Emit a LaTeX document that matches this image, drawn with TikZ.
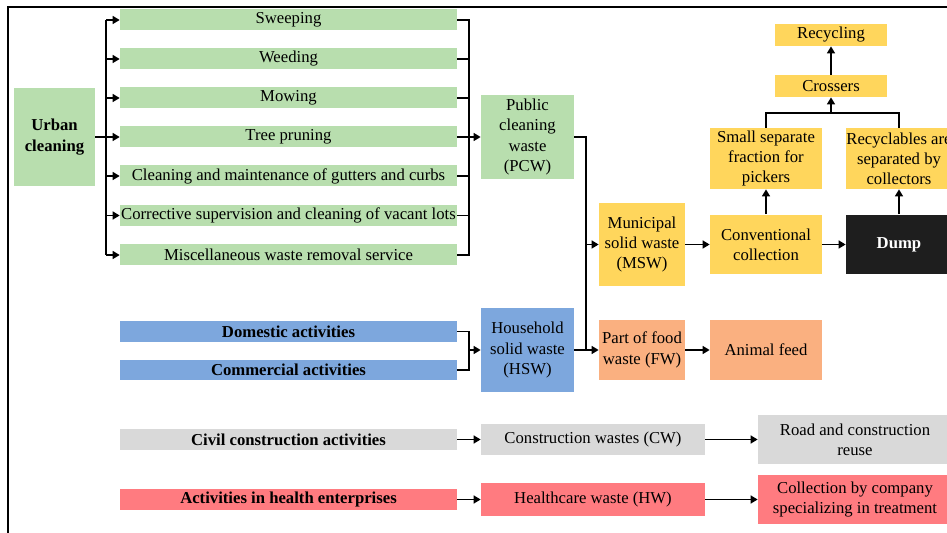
\documentclass[tikz,border=0pt]{standalone}
\usepackage{fontspec}
\setmainfont{Liberation Serif}
\usetikzlibrary{arrows.meta}
\definecolor{cleangreen}{RGB}{184,222,174}
\definecolor{housblue}{RGB}{125,167,221}
\definecolor{mswyellow}{RGB}{255,214,92}
\definecolor{foodorange}{RGB}{250,176,128}
\definecolor{buildgrey}{RGB}{217,217,217}
\definecolor{healthred}{RGB}{255,123,128}
\definecolor{dumpblack}{RGB}{30,30,30}
\tikzset{
  box/.style={inner sep=0pt, align=center, font=\fontsize{9.5}{11.5}\selectfont},
  strong/.style={box, font=\fontsize{9.5}{11.5}\selectfont\bfseries},
  actbox/.style={minimum width=6.74cm, minimum height=0.42cm},
  link/.style={line width=1.1pt},
  arr/.style={link, -{Triangle[length=4pt,width=4.5pt]}},
}
\begin{document}
\begin{tikzpicture}[x=0.02cm, y=-0.02cm]
      \useasboundingbox (0,0) rectangle (947,533);
      \draw[link] (947,7) -- (8,7) -- (8,533);
      \node[strong, fill=cleangreen, minimum width=1.62cm, minimum height=1.98cm] (urban) at (54.5,137) {Urban\\cleaning};
      \node[box, actbox, fill=cleangreen] (sweep) at (288.5,20) {Sweeping};
      \node[box, actbox, fill=cleangreen] (weed) at (288.5,59) {Weeding};
      \node[box, actbox, fill=cleangreen] (mow) at (288.5,98) {Mowing};
      \node[box, actbox, fill=cleangreen] (prune) at (288.5,137) {Tree pruning};
      \node[box, actbox, fill=cleangreen] (gutter) at (288.5,176) {Cleaning and maintenance of gutters and curbs};
      \node[box, actbox, fill=cleangreen] (lots) at (288.5,215.5) {Corrective supervision and cleaning of vacant lots};
      \node[box, actbox, fill=cleangreen] (misc) at (288.5,255) {Miscellaneous waste removal service};
      \node[box, fill=cleangreen, minimum width=1.86cm, minimum height=1.70cm] (pcw) at (527.5,137) {Public\\cleaning\\waste\\(PCW)};
      \node[box, fill=mswyellow, minimum width=1.72cm, minimum height=1.68cm] (msw) at (642,244.5) {Municipal\\solid waste\\(MSW)};
      \node[box, fill=mswyellow, minimum width=2.24cm, minimum height=1.20cm] (conv) at (766,244.5) {Conventional\\collection};
      \node[strong, fill=dumpblack, text=white, minimum width=2.12cm, minimum height=1.20cm] (dump) at (899,244.5) {Dump};
      \node[box, fill=mswyellow, minimum width=2.24cm, minimum height=1.22cm] (small) at (766,158.5) {Small separate\\fraction for\\pickers};
      \node[box, fill=mswyellow, minimum width=2.12cm, minimum height=1.22cm] (recyc) at (899,158.5) {Recyclables are\\separated by\\collectors};
      \node[box, fill=mswyellow, minimum width=2.24cm, minimum height=0.44cm] (cross) at (831,86) {Crossers};
      \node[box, fill=mswyellow, minimum width=2.24cm, minimum height=0.44cm] (recycling) at (831,35) {Recycling};
      \node[strong, actbox, fill=housblue] (dom) at (288.5,331.5) {Domestic activities};
      \node[strong, actbox, fill=housblue] (com) at (288.5,370) {Commercial activities};
      \node[box, fill=housblue, minimum width=1.86cm, minimum height=1.70cm] (hsw) at (527.5,350) {Household\\solid waste\\(HSW)};
      \node[box, fill=foodorange, minimum width=1.72cm, minimum height=1.20cm] (fw) at (642,350) {Part of food\\waste (FW)};
      \node[box, fill=foodorange, minimum width=2.24cm, minimum height=1.20cm] (feed) at (766,350) {Animal feed};
      \node[strong, actbox, fill=buildgrey] (civil) at (288.5,439.5) {Civil construction activities};
      \node[box, fill=buildgrey, minimum width=4.48cm, minimum height=0.64cm] (cw) at (593,439.5) {Construction wastes (CW)};
      \node[box, fill=buildgrey, minimum width=3.88cm, minimum height=0.98cm] (road) at (855,439.5) {Road and construction\\reuse};
      \node[strong, actbox, fill=healthred] (health) at (288.5,499.5) {Activities in health enterprises};
      \node[box, fill=healthred, minimum width=4.48cm, minimum height=0.66cm] (hw) at (593,499.5) {Healthcare waste (HW)};
      \node[box, fill=healthred, minimum width=3.88cm, minimum height=0.98cm] (company) at (855,499.5) {Collection by company\\specializing in treatment};
      \coordinate (lbus) at (106,0);
      \coordinate (rbus) at (469,0);
      \coordinate (mbus) at (586,0);
      \coordinate (cjoin) at (831,113);
      \draw[arr] (urban) -- (prune);
      \draw[link] (lbus |- sweep) -- (lbus |- misc);
      \draw[arr] (lbus |- sweep) -- (sweep);
      \draw[arr] (lbus |- weed) -- (weed);
      \draw[arr] (lbus |- mow) -- (mow);
      \draw[arr] (lbus |- gutter) -- (gutter);
      \draw[arr] (lbus |- lots) -- (lots);
      \draw[arr] (lbus |- misc) -- (misc);
      \draw[link] (sweep) -- (rbus |- sweep) -- (rbus |- misc) -- (misc);
      \draw[link] (weed) -- (rbus |- weed);
      \draw[link] (mow) -- (rbus |- mow);
      \draw[link] (gutter) -- (rbus |- gutter);
      \draw[link] (lots) -- (rbus |- lots);
      \draw[arr] (prune) -- (pcw);
      \draw[link] (pcw) -- (mbus |- pcw) -- (mbus |- hsw);
      \draw[arr] (mbus |- msw) -- (msw);
      \draw[arr] (msw) -- (conv);
      \draw[arr] (conv) -- (dump);
      \draw[arr] (conv) -- (small);
      \draw[arr] (dump) -- (recyc);
      \draw[link] (small) |- (cjoin) -| (recyc);
      \draw[arr] (cjoin) -- (cross);
      \draw[arr] (cross) -- (recycling);
      \draw[link] (dom) -- (rbus |- dom) -- (rbus |- com) -- (com);
      \draw[arr] (rbus |- hsw) -- (hsw);
      \draw[arr] (hsw) -- (fw);
      \draw[arr] (fw) -- (feed);
      \draw[arr] (civil) -- (cw);
      \draw[arr] (cw) -- (road);
      \draw[arr] (health) -- (hw);
      \draw[arr] (hw) -- (company);
    \end{tikzpicture}
\end{document}
